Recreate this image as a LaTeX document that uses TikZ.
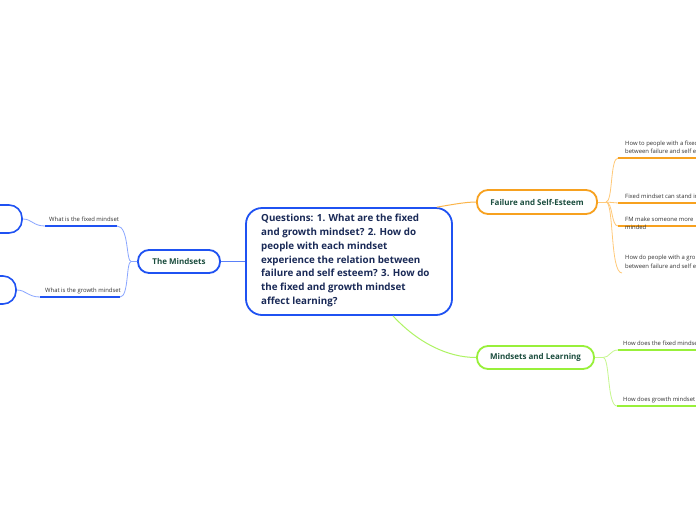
\documentclass[tikz,border=0pt]{standalone}
\usepackage{fontspec}
\setmainfont{Open Sans}
\begin{document}
\begin{tikzpicture}[x=1pt,y=-1pt,
  topicbox/.style={draw, line width=1.8pt, rounded corners=11pt, inner sep=0pt, font=\bfseries\fontsize{8}{9}\selectfont, text=labelgreen},
  subtext/.style={anchor=west, inner sep=0pt, font=\fontsize{5.9}{8.5}\selectfont, text=subgray, align=left},
  ulblue/.style={draw=mblue, line width=1.6pt},
  ulorange/.style={draw=morange, line width=1.6pt},
  ulgreen/.style={draw=mgreen, line width=1.6pt},
  cblue/.style={draw=lblue, line width=0.8pt},
  corange/.style={draw=lorange, line width=0.8pt},
  cgreen/.style={draw=lgreen, line width=0.8pt}]
\definecolor{mblue}{HTML}{1F52F2}
\definecolor{lblue}{HTML}{8AA6FF}
\definecolor{midblue}{HTML}{5A80F8}
\definecolor{morange}{HTML}{F7A11F}
\definecolor{lorange}{HTML}{FFC978}
\definecolor{midorange}{HTML}{FBB54A}
\definecolor{mgreen}{HTML}{98F03A}
\definecolor{lgreen}{HTML}{C6F78E}
\definecolor{midgreen}{HTML}{AEF363}
\definecolor{labelgreen}{HTML}{1B4D3E}
\definecolor{navy}{HTML}{1A2A57}
\definecolor{subgray}{HTML}{333333}
\useasboundingbox (0,0) rectangle (696,520);
\clip (0,0) rectangle (696,520);
\fill[white] (0,0) rectangle (696,520);

% central node
\node[draw=mblue, line width=1.8pt, rounded corners=16pt, minimum width=206pt, minimum height=107pt, inner sep=0pt] (center) at (349,261.5) {};
\node[anchor=north west, inner sep=0pt, align=left, text=navy, font=\bfseries\fontsize{9.8}{13.8}\selectfont] (ctext) at (261,214) {Questions: 1. What are the fixed\\and growth mindset? 2. How do\\people with each mindset\\experience the relation between\\failure and self esteem? 3. How do\\the fixed and growth mindset\\affect learning?};

% main topics
\node[topicbox, draw=mblue, minimum width=82pt, minimum height=23pt] (mind) at (179,261.5) {The Mindsets};
\node[topicbox, draw=morange, minimum width=120pt, minimum height=24pt] (fail) at (537,202) {Failure and Self-Esteem};
\node[topicbox, draw=mgreen, minimum width=117pt, minimum height=23pt] (learn) at (535.5,357.5) {Mindsets and Learning};

% main connectors
\draw[draw=midblue, line width=1pt] (center.west |- 0,261.5) -- (mind.east);
\draw[draw=midorange, line width=1pt] ([xshift=-16pt]center.north east) .. controls (450,205) and (465,202) .. (fail.west);
\draw[draw=midgreen, line width=1pt] ([xshift=44pt]center.south) .. controls (418,343) and (448,357.5) .. (learn.west);

% left side (The Mindsets)
\node[draw=mblue, line width=1.6pt, rounded corners=13pt, minimum width=60pt, minimum height=28pt, inner sep=0pt] (leftA) at (-8,219) {};
\node[draw=mblue, line width=1.6pt, rounded corners=13pt, minimum width=60pt, minimum height=28pt, inner sep=0pt] (leftB) at (-14,290) {};
\coordinate (f1a) at (45,226); \coordinate (f1b) at (117,226);
\coordinate (g1a) at (40,297); \coordinate (g1b) at (120,297);
\draw[ulblue] (f1a) -- (f1b);
\draw[ulblue] (g1a) -- (g1b);
\node[subtext] (tf1) at (49,219) {What is the fixed mindset};
\node[subtext] (tg1) at (45,290.5) {What is the growth mindset};
\draw[cblue] (mind.west) -- ++(-6,0) .. controls (126,261.5) and (129,226) .. (f1b);
\draw[cblue] (mind.west) -- ++(-6,0) .. controls (126,261.5) and (129,297) .. (g1b);
\draw[cblue] (f1a) .. controls (33,226) and (32,219) .. (leftA.east);
\draw[cblue] (g1a) .. controls (28,297) and (26,290) .. (leftB.east);

% right side (Failure and Self-Esteem)
\coordinate (fo) at (606,202);
\coordinate (o1) at (618,158); \coordinate (o1e) at (700,158);
\coordinate (o2) at (618,203); \coordinate (o2e) at (700,203);
\coordinate (o3) at (618,226); \coordinate (o3e) at (700,226);
\coordinate (o4) at (622,273);
\draw[corange] (fail.east) -- (fo);
\draw[corange] (fo) .. controls (613,202) and (610,158) .. (o1);
\draw[corange] (fo) -- (o2);
\draw[corange] (fo) .. controls (613,202) and (611,226) .. (o3);
\draw[corange] (fo) .. controls (614,202) and (610,273) .. (o4);
\draw[ulorange] (o1) -- (o1e);
\draw[ulorange] (o2) -- (o2e);
\draw[ulorange] (o3) -- (o3e);
\node[subtext] (to1) at (625,147.5) {How to people with a fixed\\between failure and self e};
\node[subtext] (to2) at (625,196.5) {Fixed mindset can stand in};
\node[subtext] (to3) at (625,223.5) {FM make someone more\\minded};
\node[subtext] (to4) at (625,262) {How do people with a gro\\between failure and self e};

% right side (Mindsets and Learning)
\coordinate (go) at (603,357.5);
\coordinate (q1) at (618,350); \coordinate (q1e) at (700,350);
\coordinate (q2) at (617,406); \coordinate (q2e) at (700,406);
\draw[cgreen] (learn.east) -- (go);
\draw[cgreen] (go) .. controls (610,357.5) and (610,350) .. (q1);
\draw[cgreen] (go) .. controls (610,357.5) and (607,406) .. (q2);
\draw[ulgreen] (q1) -- (q1e);
\draw[ulgreen] (q2) -- (q2e);
\node[subtext] (tq1) at (623,343.5) {How does the fixed mindse};
\node[subtext] (tq2) at (623,399.5) {How does growth mindset};
\end{tikzpicture}
\end{document}
